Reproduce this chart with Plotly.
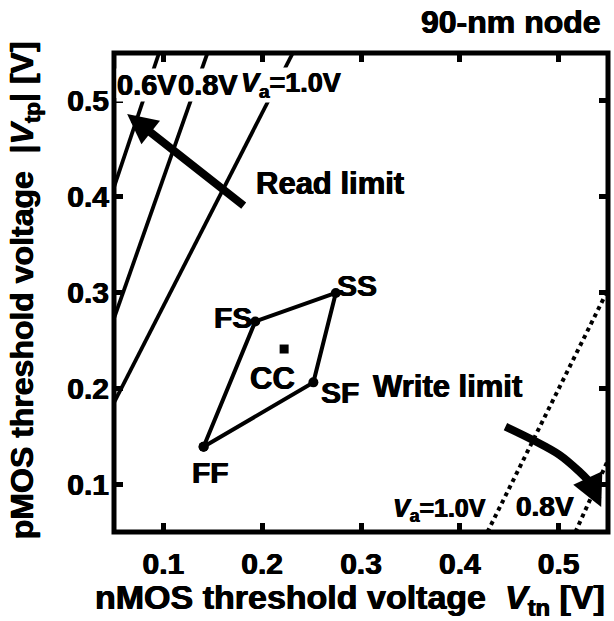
import plotly.graph_objects as go

# Read-limit contours (solid), one per array voltage
read_06_x = [0.050, 0.0956]
read_06_y = [0.410, 0.550]
read_08_x = [0.050, 0.1446]
read_08_y = [0.273, 0.550]
read_10_x = [0.050, 0.231]
read_10_y = [0.185, 0.550]

# Write-limit contours (dotted)
write_10_x = [0.428, 0.550]
write_10_y = [0.050, 0.303]
write_08_x = [0.517, 0.550]
write_08_y = [0.050, 0.125]

# Process corners (nMOS Vtn, pMOS |Vtp|)
corner_names = ["FF", "FS", "SS", "SF"]
corner_vtn = [0.1407, 0.193, 0.2745, 0.2518]
corner_vtp = [0.1389, 0.2698, 0.2995, 0.2062]
cc_vtn = [0.2222]
cc_vtp = [0.241]

# Arrows: tail -> tip
read_arrow_tail = (0.1828, 0.3894)
read_arrow_tip = (0.0633, 0.4864)
write_arrow_x = [0.4462, 0.4740, 0.5010, 0.5212, 0.5313]
write_arrow_y = [0.1600, 0.1460, 0.1304, 0.1129, 0.1025]
write_arrow_tip = (0.5431, 0.0761)

tick_vals = [0.1, 0.2, 0.3, 0.4, 0.5]
tick_text = ["0.1", "0.2", "0.3", "0.4", "0.5"]

FONT = "Liberation Sans, Arial, sans-serif"
BLACK = "#000000"
HEAVY = "0.5px 0 0 #000, -0.5px 0 0 #000"


def bold(size):
    return dict(family=FONT, size=size, color=BLACK, weight="bold", shadow=HEAVY)


fig = go.Figure()

for xs, ys in [(read_06_x, read_06_y), (read_08_x, read_08_y), (read_10_x, read_10_y)]:
    fig.add_trace(go.Scatter(x=xs, y=ys, mode="lines",
                             line=dict(color=BLACK, width=3.8), hoverinfo="skip"))

for xs, ys in [(write_10_x, write_10_y), (write_08_x, write_08_y)]:
    fig.add_trace(go.Scatter(x=xs, y=ys, mode="lines",
                             line=dict(color=BLACK, width=4, dash="dot"), hoverinfo="skip"))

# Corner diamond
fig.add_trace(go.Scatter(x=corner_vtn + corner_vtn[:1], y=corner_vtp + corner_vtp[:1],
                         mode="lines+markers",
                         line=dict(color=BLACK, width=4),
                         marker=dict(color=BLACK, size=10), hoverinfo="skip"))
fig.add_trace(go.Scatter(x=cc_vtn, y=cc_vtp, mode="markers",
                         marker=dict(color=BLACK, size=9, symbol="square"), hoverinfo="skip"))

# Curved write-limit arrow shaft
fig.add_trace(go.Scatter(x=write_arrow_x, y=write_arrow_y, mode="lines",
                         line=dict(color=BLACK, width=8, shape="spline"), hoverinfo="skip"))

annotations = []


def label(text, x, y, size, **kw):
    d = dict(text=text, x=x, y=y, xref="x", yref="y", showarrow=False, font=bold(size))
    d.update(kw)
    annotations.append(d)


# Arrows
annotations.append(dict(x=read_arrow_tip[0], y=read_arrow_tip[1],
                        ax=read_arrow_tail[0], ay=read_arrow_tail[1],
                        xref="x", yref="y", axref="x", ayref="y", text="",
                        showarrow=True, arrowhead=2, arrowsize=0.75, arrowwidth=8,
                        arrowcolor=BLACK))
annotations.append(dict(x=write_arrow_tip[0], y=write_arrow_tip[1],
                        ax=write_arrow_x[-1], ay=write_arrow_y[-1],
                        xref="x", yref="y", axref="x", ayref="y", text="",
                        showarrow=True, arrowhead=2, arrowsize=0.8, arrowwidth=8,
                        arrowcolor=BLACK))

# Contour voltage labels
label("0.6V", 0.0838, 0.5171, 29, bgcolor="white", borderpad=0)
label("0.8V", 0.1455, 0.5171, 29, bgcolor="white", borderpad=0)
label("<i>V</i><sub>a</sub>=1.0V", 0.2293, 0.5171, 27, bgcolor="white", borderpad=0)
label("<i>V</i><sub>a</sub>=1.0V", 0.3799, 0.0730, 25)
label("0.8V", 0.4859, 0.0771, 28)
label("Read limit", 0.2689, 0.4143, 31)
label("Write limit", 0.388, 0.2024, 31)

# Corner labels, offset (px right, px down) from each corner point
corner_offsets = {"FF": (7, 26), "FS": (-22, -4), "SS": (21, -7), "SF": (27, 10)}
for name, vx, vy in zip(corner_names, corner_vtn, corner_vtp):
    dx, dy = corner_offsets[name]
    label(name, vx, vy, 30, xshift=dx, yshift=-dy)
label("CC", cc_vtn[0], cc_vtp[0], 31, xshift=-12, yshift=-29)

# Titles
annotations.append(dict(text="90-nm node", x=0.99, y=1.065, xref="paper", yref="paper",
                        xanchor="right", yanchor="middle", showarrow=False, font=bold(32)))
annotations.append(dict(text="nMOS threshold voltage  <i>V</i><sub>tn</sub> [V]",
                        x=0.478, y=-0.141, xref="paper", yref="paper",
                        xanchor="center", yanchor="middle", showarrow=False, font=bold(34)))
annotations.append(dict(text="pMOS threshold voltage  |<i>V</i><sub>tp</sub>| [V]",
                        x=-0.182, y=0.505, xref="paper", yref="paper", textangle=-90,
                        xanchor="center", yanchor="middle", showarrow=False, font=bold(32)))

axis_common = dict(range=[0.05, 0.55], tickvals=tick_vals, ticktext=tick_text,
                   ticks="inside", ticklen=9, tickwidth=5, tickcolor=BLACK,
                   mirror="ticks", showgrid=False, zeroline=False, showline=False,
                   tickfont=bold(30))

fig.update_layout(
    width=614, height=621, autosize=False,
    margin=dict(l=114, r=6, t=53, b=89),
    paper_bgcolor="white", plot_bgcolor="white",
    showlegend=False,
    xaxis=dict(**axis_common, ticklabelstandoff=11),
    yaxis=dict(**axis_common, ticklabelstandoff=4),
    annotations=annotations,
    shapes=[dict(type="rect", xref="paper", yref="paper", x0=0, y0=0, x1=1, y1=1,
                 line=dict(color=BLACK, width=5), layer="above")],
)

fig.write_html("out.html")
